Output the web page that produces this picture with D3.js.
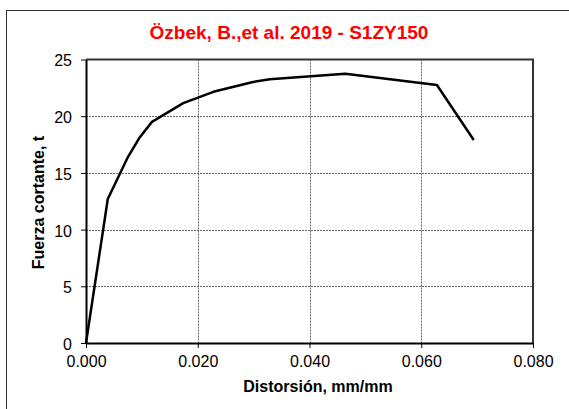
<!DOCTYPE html>
<html>
<head>
<meta charset="utf-8">
<script src="https://cdn.jsdelivr.net/npm/d3@7"></script>
<style>
  html, body { margin: 0; padding: 0; background: #fff; }
  svg { display: block; font-family: "Liberation Sans", Arial, sans-serif; }
</style>
</head>
<body>
<svg id="chart" width="569" height="409"></svg>
<script>
const titleText = "Özbek, B.,et al. 2019 - S1ZY150";
const xLabel = "Distorsión, mm/mm";
const yLabel = "Fuerza cortante, t";
const distortion = [0, 0.0039, 0.0075, 0.0095, 0.0118, 0.0174, 0.0228, 0.0297, 0.0329, 0.0464, 0.0628, 0.0694];
const force      = [0, 12.7,   16.4,   18.05,  19.5,   21.15,  22.15,  23.0,   23.25,  23.75,  22.75,  17.9];
const xTicks = [0, 0.02, 0.04, 0.06, 0.08];
const yTicks = [0, 5, 10, 15, 20, 25];

const svg = d3.select("#chart");
const L = 86, R = 533, T = 59.5, B = 343;
const x = d3.scaleLinear().domain([0, 0.08]).range([L, R]);
const y = d3.scaleLinear().domain([0, 25]).range([B, T]);

// outer frame
svg.append("rect").attr("x", 6.5).attr("y", 10.5).attr("width", 600).attr("height", 500)
  .attr("fill", "none").attr("stroke", "#333").attr("stroke-width", 1);

// grid
const grid = svg.append("g");
grid.selectAll("line.gy").data(yTicks.filter(d => d > 0 && d < 25)).join("line")
  .attr("x1", L).attr("x2", R).attr("y1", d => Math.round(y(d)) + 0.5).attr("y2", d => Math.round(y(d)) + 0.5)
  .attr("stroke", "#666").attr("stroke-width", 1).attr("stroke-dasharray", "2,1");
grid.selectAll("line.gx").data(xTicks.filter(d => d > 0 && d < 0.08)).join("line")
  .attr("y1", T).attr("y2", B).attr("x1", d => Math.round(x(d)) + 0.5).attr("x2", d => Math.round(x(d)) + 0.5)
  .attr("stroke", "#666").attr("stroke-width", 1).attr("stroke-dasharray", "2,1");

// plot border (top and right)
svg.append("path").attr("d", `M${L},${T} H${R} V${B}`)
  .attr("fill", "none").attr("stroke", "#333").attr("stroke-width", 2);

// axes
const xAxis = d3.axisBottom(x).tickValues(xTicks).tickFormat(d3.format(".3f")).tickSizeInner(5).tickSizeOuter(0).tickPadding(8);
const yAxis = d3.axisLeft(y).tickValues(yTicks).tickFormat(d3.format("d")).tickSizeInner(5).tickSizeOuter(0).tickPadding(8);

const gx = svg.append("g").attr("transform", `translate(0,${B})`).call(xAxis);
const gy = svg.append("g").attr("transform", `translate(${L},0)`).call(yAxis);
[gx, gy].forEach(g => {
  g.select(".domain").attr("stroke", "#000").attr("stroke-width", 2);
  g.selectAll(".tick line").attr("stroke", "#000").attr("stroke-width", 1);
  g.selectAll(".tick text").attr("fill", "#000").style("font-size", "16px")
    .style("font-family", "'Liberation Sans', Arial, sans-serif");
});
gx.selectAll(".tick text").attr("dy", "0.71em");
gy.selectAll(".tick text").attr("dy", "0.4em").attr("x", -14);

// line
const line = d3.line().x((d, i) => x(distortion[i])).y(d => y(d));
svg.append("path").datum(force).attr("d", line)
  .attr("fill", "none").attr("stroke", "#000").attr("stroke-width", 2.5)
  .attr("stroke-linejoin", "round");

// title
svg.append("text").attr("x", 289).attr("y", 39).attr("text-anchor", "middle")
  .attr("fill", "#ff0000").style("font-size", "19px").style("font-weight", "bold")
  .text(titleText);

// axis titles
svg.append("text").attr("x", 318).attr("y", 391.5).attr("text-anchor", "middle")
  .attr("fill", "#000").style("font-size", "16px").style("font-weight", "bold").text(xLabel);
svg.append("text").attr("transform", "translate(43.5,202.5) rotate(-90)").attr("text-anchor", "middle")
  .attr("fill", "#000").style("font-size", "16px").style("font-weight", "bold").text(yLabel);
</script>
</body>
</html>
